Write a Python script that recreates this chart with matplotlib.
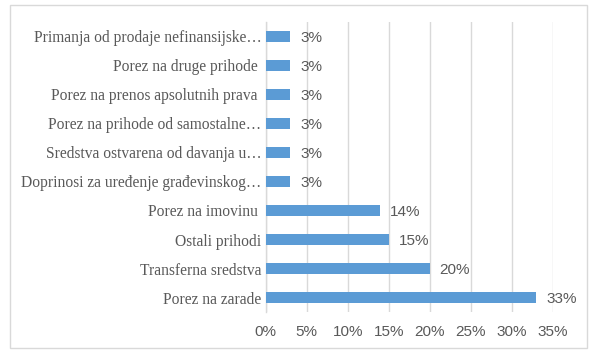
import matplotlib
matplotlib.use("Agg")
import matplotlib.pyplot as plt
import matplotlib.patches as mpatches

BAR = "#5B9BD5"
GRID = "#D9D9D9"
TEXT = "#595959"

categories = [
    "Porez na zarade",
    "Transferna sredstva",
    "Ostali prihodi",
    "Porez na imovinu ",
    "Doprinosi za uređenje građevinskog…",
    "Sredstva ostvarena od davanja u…",
    "Porez na prihode od samostalne…",
    "Porez na prenos apsolutnih prava ",
    "Porez na druge prihode ",
    "Primanja od prodaje nefinansijske…",
]
values = [33, 20, 15, 14, 3, 3, 3, 3, 3, 3]
labels = ["33%", "20%", "15%", "14%", "3%", "3%", "3%", "3%", "3%", "3%"]
xticks = [0, 5, 10, 15, 20, 25, 30, 35]

fig = plt.figure(figsize=(5.96, 3.53), dpi=100)
ax = fig.add_axes([0.4458, 0.116, 0.4815, 0.822])

y = range(len(categories))
bars = ax.barh(y, values, height=0.37, color=BAR, zorder=3)

for bar, lab in zip(bars, labels):
    ax.text(bar.get_width() + 1.2, bar.get_y() + bar.get_height() / 2 - 0.05, lab,
            va="center", ha="left", color=TEXT, fontsize=11,
            family="Liberation Sans")

ax.set_xlim(0, 35)
ax.set_ylim(-0.5, len(categories) - 0.5)
ax.set_xticks(xticks)
ax.set_xticklabels([f"{t}%" for t in xticks], color=TEXT, fontsize=11,
                   family="Liberation Sans")
ax.set_yticks(list(y))
ax.set_yticklabels(categories, color=TEXT, fontsize=11.2, family="Liberation Serif")
ax.tick_params(axis="both", length=0)
ax.tick_params(axis="y", pad=3)
ax.tick_params(axis="x", pad=9)

ax.grid(axis="x", color=GRID, linewidth=1, zorder=0)
for side in ["top", "right", "bottom"]:
    ax.spines[side].set_visible(False)
ax.spines["left"].set_color(GRID)
ax.spines["left"].set_linewidth(1)

fig.patches.append(mpatches.Rectangle((10 / 596, 5 / 353), 577 / 596, 343 / 353,
                                      transform=fig.transFigure, fill=False,
                                      edgecolor=GRID, linewidth=1))

plt.savefig("out.png", dpi=100, facecolor="white")
plt.close()
